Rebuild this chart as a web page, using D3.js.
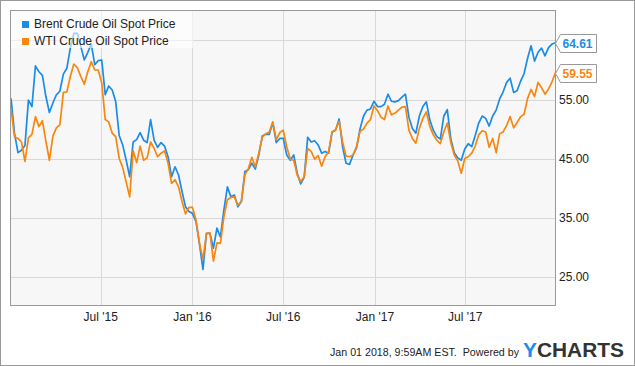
<!DOCTYPE html>
<html>
<head>
<meta charset="utf-8">
<script src="https://cdn.jsdelivr.net/npm/d3@7"></script>
<style>
body { margin: 0; background: #fff; }
svg { display: block; font-family: "Liberation Sans", Arial, sans-serif; }
</style>
</head>
<body>
<div id="chart"></div>
<script>
// weekly spot prices, first week ending 2015-01-02
var firstWeek = "2015-01-02";

var brent = [55.2,49.3,46.0,46.4,47.2,54.9,53.8,60.7,59.7,59.1,55.5,52.8,54.4,55.8,56.4,59.3,60.3,63.7,66.2,66.2,
  64.0,61.7,63.0,64.4,60.9,61.6,61.7,55.8,57.3,56.6,54.6,48.9,47.3,44.7,41.9,47.8,48.2,49.4,48.1,47.7,
  51.6,48.1,46.9,47.7,47.1,45.3,41.9,43.6,42.2,39.4,36.8,36.0,35.7,34.3,30.5,26.2,32.3,32.3,29.8,33.2,
  31.7,36.3,40.2,38.5,38.8,36.8,37.7,42.8,43.1,44.2,43.2,45.6,48.8,49.1,49.1,51.1,47.7,48.4,48.4,45.6,
  44.7,45.6,42.5,40.7,41.8,48.6,47.8,48.0,47.3,45.9,46.2,45.9,49.5,49.8,51.7,47.0,44.2,44.0,45.6,46.8,
  50.0,52.2,53.2,53.4,54.7,53.8,53.8,54.2,55.9,54.7,54.6,54.8,55.4,55.9,52.0,50.1,49.3,52.2,53.8,54.6,
  51.5,49.8,48.7,48.3,52.2,53.3,48.3,46.0,45.1,44.7,46.6,47.5,47.0,48.9,51.0,52.2,51.8,50.5,52.2,53.2,
  55.1,56.3,57.9,58.6,56.2,56.5,58.1,59.4,62.0,64.1,61.5,63.0,63.7,62.4,63.8,64.4,64.61];

var wti = [53.5,48.7,48.4,47.8,44.5,48.5,49.1,52.1,50.4,51.4,47.9,44.7,48.8,50.2,50.7,56.2,56.3,58.9,61.0,60.4,
  58.9,57.6,59.7,61.4,60.0,60.0,57.8,51.6,51.2,49.3,48.7,45.0,43.5,41.0,38.5,46.3,44.3,47.1,44.7,45.1,
  47.8,46.7,45.3,45.9,46.3,44.2,40.8,41.4,40.2,37.7,35.6,36.7,36.7,34.6,30.6,27.9,32.3,32.4,27.6,30.7,
  30.6,35.1,38.0,38.4,38.5,37.1,37.7,42.2,43.3,45.2,43.6,45.9,48.6,49.2,49.5,51.2,48.2,49.4,49.8,47.0,
  44.9,44.7,42.2,41.1,41.9,46.7,46.2,44.9,45.5,43.7,45.3,46.2,49.5,49.9,51.3,47.8,45.4,45.3,45.6,47.0,
  49.6,50.0,51.0,51.6,53.9,53.1,52.0,51.6,53.9,52.4,52.7,53.2,53.7,53.8,49.8,48.4,47.6,50.1,51.8,52.9,
  50.4,49.0,48.1,47.5,49.5,51.0,47.7,45.6,44.6,42.5,45.0,45.3,45.9,47.1,49.0,49.7,49.5,46.9,48.4,46.0,
  49.2,49.5,50.6,52.1,50.2,51.1,52.1,52.5,55.2,56.7,55.5,57.9,57.0,55.9,56.8,58.0,59.55];

var seriesNames = ["Brent Crude Oil Spot Price", "WTI Crude Oil Spot Price"];
var xTickDates = ["2015-07-01", "2016-01-01", "2016-07-01", "2017-01-01", "2017-07-01"];
var xTickLabels = ["Jul '15", "Jan '16", "Jul '16", "Jan '17", "Jul '17"];
var yGridValues = [25, 35, 45, 55, 65];
var yLabelValues = [25, 35, 45, 55];
var footerText = "Jan 01 2018, 9:59AM EST.  Powered by";

var colors = ["#1b8ce8", "#f8860f"];
var width = 635, height = 366;
var plot = {left: 10, top: 11, right: 556, bottom: 306};

var parse = d3.utcParse("%Y-%m-%d");
var start = parse(firstWeek);
var dates = brent.map(function(d, i){ return d3.utcDay.offset(start, 7 * i); });

var x = d3.scaleUtc()
    .domain([parse("2014-12-31"), parse("2017-12-30")])
    .range([plot.left, plot.right]);
var y = d3.scaleLinear()
    .domain([20, 70])
    .range([plot.bottom, plot.top]);

var svg = d3.select("#chart").append("svg")
    .attr("width", width)
    .attr("height", height);

// outer frame
svg.append("rect")
    .attr("x", 0.5).attr("y", 0.5)
    .attr("width", width - 1).attr("height", height - 1)
    .attr("fill", "#fff").attr("stroke", "#999");

// plot background
svg.append("rect")
    .attr("x", plot.left).attr("y", plot.top)
    .attr("width", plot.right - plot.left).attr("height", plot.bottom - plot.top)
    .attr("fill", "#f7f7f7");

svg.append("clipPath").attr("id", "clip")
  .append("rect")
    .attr("x", plot.left).attr("y", plot.top)
    .attr("width", plot.right - plot.left).attr("height", plot.bottom - plot.top);

// grid
var grid = svg.append("g").attr("stroke", "#d8d8d8").attr("stroke-width", 1);
grid.selectAll(".hg").data(yGridValues).enter().append("line")
    .attr("x1", plot.left).attr("x2", plot.right)
    .attr("y1", function(d){ return Math.round(y(d)) + 0.5; })
    .attr("y2", function(d){ return Math.round(y(d)) + 0.5; });
grid.selectAll(".vg").data(xTickDates).enter().append("line")
    .attr("y1", plot.top).attr("y2", plot.bottom)
    .attr("x1", function(d){ return Math.round(x(parse(d))) + 0.5; })
    .attr("x2", function(d){ return Math.round(x(parse(d))) + 0.5; });

// lines
var line = d3.line()
    .x(function(d, i){ return x(dates[i]); })
    .y(function(d){ return y(d); });

var lines = svg.append("g").attr("clip-path", "url(#clip)");
[brent, wti].forEach(function(s, k){
    lines.append("path")
        .attr("d", line(s))
        .attr("fill", "none")
        .attr("stroke", colors[k])
        .attr("stroke-width", 1.7)
        .attr("stroke-linejoin", "round");
});

// plot border
svg.append("rect")
    .attr("x", plot.left + 0.5).attr("y", plot.top - 0.5)
    .attr("width", plot.right - plot.left - 1).attr("height", plot.bottom - plot.top)
    .attr("fill", "none").attr("stroke", "#999");

// y labels
svg.append("g").selectAll("text").data(yLabelValues).enter().append("text")
    .attr("x", plot.right + 3)
    .attr("y", function(d){ return y(d) + 4.5; })
    .attr("font-size", 12)
    .attr("fill", "#222")
    .text(function(d){ return d3.format(".2f")(d); });

// x labels
svg.append("g").selectAll("text").data(xTickDates).enter().append("text")
    .attr("x", function(d){ return x(parse(d)); })
    .attr("y", 321)
    .attr("text-anchor", "middle")
    .attr("font-size", 12)
    .attr("fill", "#222")
    .text(function(d, i){ return xTickLabels[i]; });

// legend
svg.append("rect")
    .attr("x", plot.left + 1).attr("y", plot.top)
    .attr("width", 182).attr("height", 37)
    .attr("fill", "#fff").attr("opacity", 0.6);
var legend = svg.append("g");
seriesNames.forEach(function(name, k){
    legend.append("rect")
        .attr("x", 22).attr("y", 21 + k * 17)
        .attr("width", 7).attr("height", 7)
        .attr("fill", colors[k]);
    legend.append("text")
        .attr("x", 34).attr("y", 28 + k * 16.6)
        .attr("font-size", 12)
        .attr("fill", "#222")
        .text(name);
});

// last value tags
[brent, wti].forEach(function(s, k){
    var v = s[s.length - 1];
    var cy = Math.round(y(v)) + 0.5;
    var x0 = plot.right - 0.5, x1 = x0 + 5, x2 = x0 + 41;
    svg.append("path")
        .attr("d", "M" + x0 + "," + cy + "L" + x1 + "," + (cy - 9) + "L" + x2 + "," + (cy - 9) +
                   "L" + x2 + "," + (cy + 9) + "L" + x1 + "," + (cy + 9) + "Z")
        .attr("fill", "#fff").attr("stroke", "#999");
    svg.append("text")
        .attr("x", x1 + 2).attr("y", cy + 4.5)
        .attr("font-size", 12).attr("font-weight", "bold")
        .attr("fill", colors[k])
        .text(d3.format(".2f")(v));
});

// footer
svg.append("text")
    .attr("x", 519).attr("y", 356)
    .attr("text-anchor", "end")
    .attr("font-size", 11)
    .attr("textLength", 189)
    .attr("lengthAdjust", "spacingAndGlyphs")
    .attr("fill", "#222")
    .style("white-space", "pre")
    .text(footerText);
var logo = svg.append("text")
    .attr("x", 523).attr("y", 357)
    .attr("font-size", 20)
    .attr("font-weight", "bold")
    .attr("textLength", 101)
    .attr("lengthAdjust", "spacingAndGlyphs")
    .attr("fill", "#333");
logo.append("tspan").attr("fill", "#1b8ce8").text("Y");
logo.append("tspan").text("CHARTS");
</script>
</body>
</html>
